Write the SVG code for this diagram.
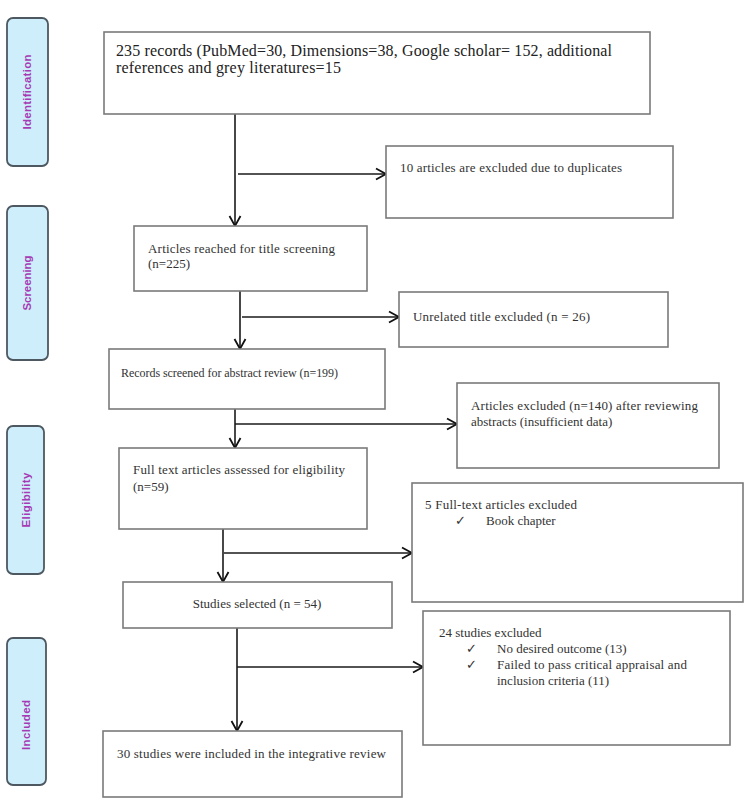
<svg xmlns="http://www.w3.org/2000/svg" width="753" height="809" viewBox="0 0 753 809">
<defs>
<marker id="ah" markerUnits="userSpaceOnUse" markerWidth="14" markerHeight="14" viewBox="0 0 14 14" refX="12" refY="7" orient="auto">
<path d="M2,1.5 L12,7 L2,12.5" fill="none" stroke="#111" stroke-width="1.8"/>
</marker>
</defs>
<style>
.box{fill:#fff;stroke:#7a7a7a;stroke-width:1.6}
.side{fill:#cfeefb;stroke:#4d5860;stroke-width:1.8}
.sl{font-family:"Liberation Sans",Arial,sans-serif;font-weight:bold;font-size:11.5px;fill:#a63ab4;text-anchor:middle}
.t{font-family:"Liberation Serif","Times New Roman",serif;font-size:13px;fill:#333}
.tb{font-family:"Liberation Serif","Times New Roman",serif;font-size:16px;fill:#222}
.c{stroke:#1a1a1a;stroke-width:1.6;fill:none;marker-end:url(#ah)}
</style>
<rect width="753" height="809" fill="#fff"/>
<g id="side-identification"><rect class="side" x="7" y="18" width="41" height="148" rx="6"/><text class="sl" transform="translate(31,92) rotate(-90)" textLength="75">Identification</text></g>
<g id="side-screening"><rect class="side" x="7" y="206" width="41" height="154" rx="6"/><text class="sl" transform="translate(31,283) rotate(-90)" textLength="55">Screening</text></g>
<g id="side-eligibility"><rect class="side" x="7" y="426" width="37" height="148" rx="6"/><text class="sl" transform="translate(30,500) rotate(-90)" textLength="55">Eligibility</text></g>
<g id="side-included"><rect class="side" x="7" y="638" width="39" height="147" rx="6"/><text class="sl" transform="translate(30,725) rotate(-90)" textLength="50">Included</text></g>

<g id="connectors">
<line class="c" x1="235" y1="114" x2="235" y2="226"/>
<line class="c" x1="238" y1="174" x2="386" y2="174"/>
<line class="c" x1="240" y1="291" x2="240" y2="349"/>
<line class="c" x1="242" y1="317" x2="399" y2="317"/>
<line class="c" x1="235" y1="409" x2="235" y2="448"/>
<line class="c" x1="235" y1="424" x2="457" y2="424"/>
<line class="c" x1="223" y1="529" x2="223" y2="582"/>
<line class="c" x1="224" y1="553" x2="412" y2="553"/>
<line class="c" x1="237" y1="628" x2="237" y2="731"/>
<line class="c" x1="237" y1="667" x2="423" y2="667"/>
</g>

<g id="n-records"><rect class="box" x="104" y="32" width="546" height="82"/>
<text class="tb" x="116" y="56" textLength="496">235 records (PubMed=30, Dimensions=38, Google scholar= 152, additional</text>
<text class="tb" x="116" y="73" textLength="225">references and grey literatures=15</text></g>
<g id="n-duplicates"><rect class="box" x="386" y="146" width="287" height="72"/>
<text class="t" x="400" y="172" textLength="222">10 articles are excluded due to duplicates</text></g>
<g id="n-title"><rect class="box" x="134" y="226" width="233" height="65"/>
<text class="t" x="148" y="253" textLength="187">Articles reached for title screening</text>
<text class="t" x="148" y="268">(n=225)</text></g>
<g id="n-unrelated"><rect class="box" x="399" y="292" width="269" height="55"/>
<text class="t" x="413" y="321" textLength="177">Unrelated title excluded (n = 26)</text></g>
<g id="n-abstract"><rect class="box" x="109" y="349" width="276" height="60"/>
<text class="t" x="121" y="377" style="font-size:12px" textLength="217">Records screened for abstract review (n=199)</text></g>
<g id="n-excl140"><rect class="box" x="457" y="383" width="262" height="85"/>
<text class="t" x="471" y="410" textLength="227">Articles excluded (n=140) after reviewing</text>
<text class="t" x="471" y="426">abstracts (insufficient data)</text></g>
<g id="n-fulltext"><rect class="box" x="119" y="448" width="248" height="81"/>
<text class="t" x="133" y="474" textLength="212">Full text articles assessed for eligibility</text>
<text class="t" x="133" y="491">(n=59)</text></g>
<g id="n-excl5"><rect class="box" x="412" y="483" width="331" height="119"/>
<text class="t" x="425" y="509" textLength="152">5 Full-text articles excluded</text>
<text class="t" x="455" y="525">✓</text>
<text class="t" x="486" y="525">Book chapter</text></g>
<g id="n-selected"><rect class="box" x="123" y="582" width="269" height="46"/>
<text class="t" x="257" y="608" text-anchor="middle">Studies selected (n = 54)</text></g>
<g id="n-excl24"><rect class="box" x="423" y="611" width="307" height="134"/>
<text class="t" x="439" y="637">24 studies excluded</text>
<text class="t" x="466" y="653">✓</text>
<text class="t" x="497" y="653">No desired outcome (13)</text>
<text class="t" x="466" y="669">✓</text>
<text class="t" x="497" y="669" textLength="190">Failed to pass critical appraisal and</text>
<text class="t" x="497" y="685">inclusion criteria (11)</text></g>
<g id="n-included"><rect class="box" x="103" y="731" width="299" height="66"/>
<text class="t" x="117" y="758" textLength="269">30 studies were included in the integrative review</text></g>
</svg>
